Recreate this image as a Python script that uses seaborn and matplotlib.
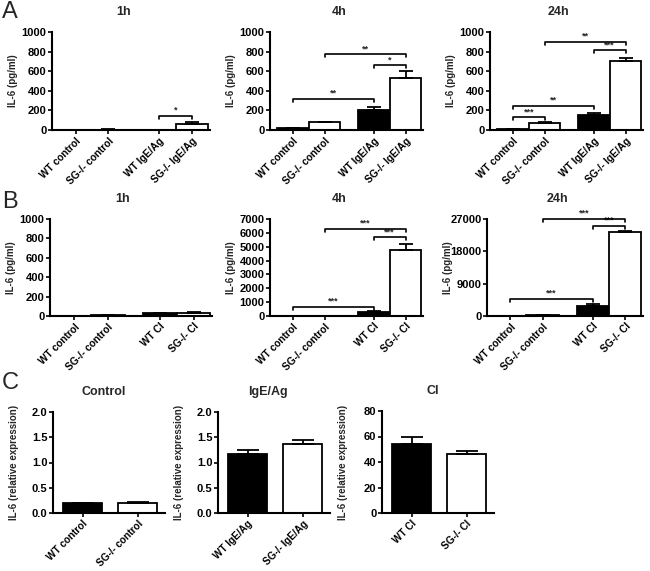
import numpy as np
import pandas as pd
import matplotlib
matplotlib.use("Agg")
import matplotlib.pyplot as plt
import seaborn as sns

sns.set_theme(style="ticks")
plt.rcParams['font.family'] = ['Liberation Sans', 'DejaVu Sans']
plt.rcParams['font.weight'] = 'bold'
plt.rcParams['axes.labelweight'] = 'bold'

# ---------------- data ----------------
a_labels = ["WT control", "SG-/- control", "WT IgE/Ag", "SG-/- IgE/Ag"]
b_labels = ["WT control", "SG-/- control", "WT CI", "SG-/- CI"]
genotype4 = ["WT", "SG", "WT", "SG"]
genotype2 = ["WT", "SG"]

a_1h = [0, 5, 0, 60]
a_1h_err = [0, 2, 0, 20]
a_4h = [18, 80, 205, 535]
a_4h_err = [5, 5, 25, 70]
a_24h = [10, 75, 155, 705]
a_24h_err = [3, 5, 15, 30]

b_1h = [3, 8, 28, 35]
b_1h_err = [1, 2, 8, 5]
b_4h = [15, 30, 310, 4780]
b_4h_err = [5, 5, 60, 450]
b_24h = [60, 150, 2800, 23500]
b_24h_err = [20, 30, 450, 200]

c_control_labels = ["WT control", "SG-/- control"]
c_control = [0.19, 0.20]
c_control_err = [0.01, 0.01]
c_ige_labels = ["WT IgE/Ag", "SG-/- IgE/Ag"]
c_ige = [1.16, 1.37]
c_ige_err = [0.09, 0.08]
c_ci_labels = ["WT CI", "SG-/- CI"]
c_ci = [54, 46]
c_ci_err = [6, 2.5]

# significance brackets: (bar i, bar j, height, label)
a_1h_sig = [(2, 3, 143, "*")]
a_4h_sig = [(0, 2, 317, "**"), (1, 3, 775, "**"), (2, 3, 659, "*")]
a_24h_sig = [(1, 3, 898, "**"), (2, 3, 812, "***"), (0, 2, 246, "**"), (0, 1, 130, "***")]
b_1h_sig = []
b_4h_sig = [(0, 2, 676, "***"), (1, 3, 6290, "***"), (2, 3, 5690, "***")]
b_24h_sig = [(0, 2, 4750, "***"), (1, 3, 27100, "***"), (2, 3, 25150, "***")]

W, H = 650, 571
fig = plt.figure(figsize=(W / 100, H / 100), dpi=100)
palette = {"WT": "black", "SG": "white"}


def make_ax(x0, y0, x1, y1):
    return fig.add_axes([x0 / W, 1 - y1 / H, (x1 - x0) / W, (y1 - y0) / H])


def style(ax, ylabel, yticks, fmt, title, px_w, px_h):
    ax.set_ylim(yticks[0], yticks[-1])
    ax.set_yticks(yticks)
    ax.set_yticklabels([fmt(v) for v in yticks], fontsize=8, fontweight='bold')
    for s in ["top", "right"]:
        ax.spines[s].set_visible(False)
    for s in ["left", "bottom"]:
        ax.spines[s].set_linewidth(1.5)
        ax.spines[s].set_color("black")
    ax.tick_params(axis='both', direction='out', length=3, width=1.2, pad=1,
                   colors='black')
    ax.set_ylabel(ylabel, fontsize=7, fontweight='bold')
    ax.yaxis.set_label_coords(-34 / px_w, 0.5)
    ax.set_xlabel("")
    ax.text(0.45, 1 + 20 / px_h, title, transform=ax.transAxes, ha='center',
            va='center', fontsize=9, fontweight='bold')


def four_panel(rect, vals, errs, labels, sig, yticks, title, fmt=lambda v: f"{v:g}"):
    ax = make_ax(*rect)
    px_w = rect[2] - rect[0]
    px_h = rect[3] - rect[1]
    pos = [0, 1, 2.55, 3.55]
    df = pd.DataFrame({"pos": pos, "val": vals, "g": genotype4})
    sns.barplot(data=df, x="pos", y="val", hue="g", palette=palette, native_scale=True,
                dodge=False, width=1.0, edgecolor="black", linewidth=1.3,
                legend=False, errorbar=None, ax=ax)
    ax.errorbar(pos, vals, yerr=[np.zeros(4), errs], fmt='none', ecolor='black',
                elinewidth=1.3, capsize=5, capthick=1.3, zorder=4)
    ax.set_xlim(-0.72, 4.1)
    ax.set_xticks(pos)
    ax.set_xticklabels(labels, rotation=45, ha='right', rotation_mode='anchor',
                       fontsize=7.3, fontweight='bold')
    style(ax, "IL-6 (pg/ml)", yticks, fmt, title, px_w, px_h)
    top = yticks[-1]
    tick = 0.03 * top
    for i, j, h, lab in sig:
        ax.plot([pos[i], pos[i], pos[j], pos[j]], [h - tick, h, h, h - tick],
                color='black', lw=1.2, clip_on=False, zorder=5)
        ax.text((pos[i] + pos[j]) / 2, h + 0.01 * top, lab, ha='center', va='bottom',
                fontsize=6.5, fontweight='bold', clip_on=False)
    return ax


def two_panel(rect, vals, errs, labels, yticks, title, fmt):
    ax = make_ax(*rect)
    px_w = rect[2] - rect[0]
    px_h = rect[3] - rect[1]
    df = pd.DataFrame({"lab": labels, "val": vals, "g": genotype2})
    sns.barplot(data=df, x="lab", y="val", hue="g", palette=palette, dodge=False,
                width=0.7, edgecolor="black", linewidth=1.3, legend=False,
                errorbar=None, ax=ax)
    ax.errorbar([0, 1], vals, yerr=[np.zeros(2), errs], fmt='none', ecolor='black',
                elinewidth=1.3, capsize=8, capthick=1.3, zorder=4)
    ax.set_xlim(-0.54, 1.5)
    ax.set_xticks([0, 1])
    ax.set_xticklabels(labels, rotation=45, ha='right', rotation_mode='anchor',
                       fontsize=7.2, fontweight='bold')
    style(ax, "IL-6 (relative expression)", yticks, fmt, title, px_w, px_h)
    return ax


a_ticks = list(range(0, 1001, 200))
four_panel((52, 32, 210, 130), a_1h, a_1h_err, a_labels, a_1h_sig, a_ticks, "1h")
four_panel((270, 32, 423, 130), a_4h, a_4h_err, a_labels, a_4h_sig, a_ticks, "4h")
four_panel((490, 32, 643, 130), a_24h, a_24h_err, a_labels, a_24h_sig, a_ticks, "24h")

four_panel((50, 219, 212, 316), b_1h, b_1h_err, b_labels, b_1h_sig, a_ticks, "1h")
four_panel((270, 219, 423, 316), b_4h, b_4h_err, b_labels, b_4h_sig,
           list(range(0, 7001, 1000)), "4h")
four_panel((487, 219, 643, 316), b_24h, b_24h_err, b_labels, b_24h_sig,
           [0, 9000, 18000, 27000], "24h")

rel_ticks = [0, 0.5, 1.0, 1.5, 2.0]
two_panel((53, 412, 165, 513), c_control, c_control_err, c_control_labels, rel_ticks,
          "Control", lambda v: f"{v:.1f}")
two_panel((218, 412, 330, 513), c_ige, c_ige_err, c_ige_labels, rel_ticks,
          "IgE/Ag", lambda v: f"{v:.1f}")
two_panel((382, 411, 494, 513), c_ci, c_ci_err, c_ci_labels, [0, 20, 40, 60, 80],
          "CI", lambda v: f"{v:g}")

for letter, y in [("A", 12), ("B", 202), ("C", 383)]:
    fig.text(2 / W, 1 - y / H, letter, fontsize=17, fontweight='normal',
             ha='left', va='center')

fig.savefig("out.png", dpi=100)
